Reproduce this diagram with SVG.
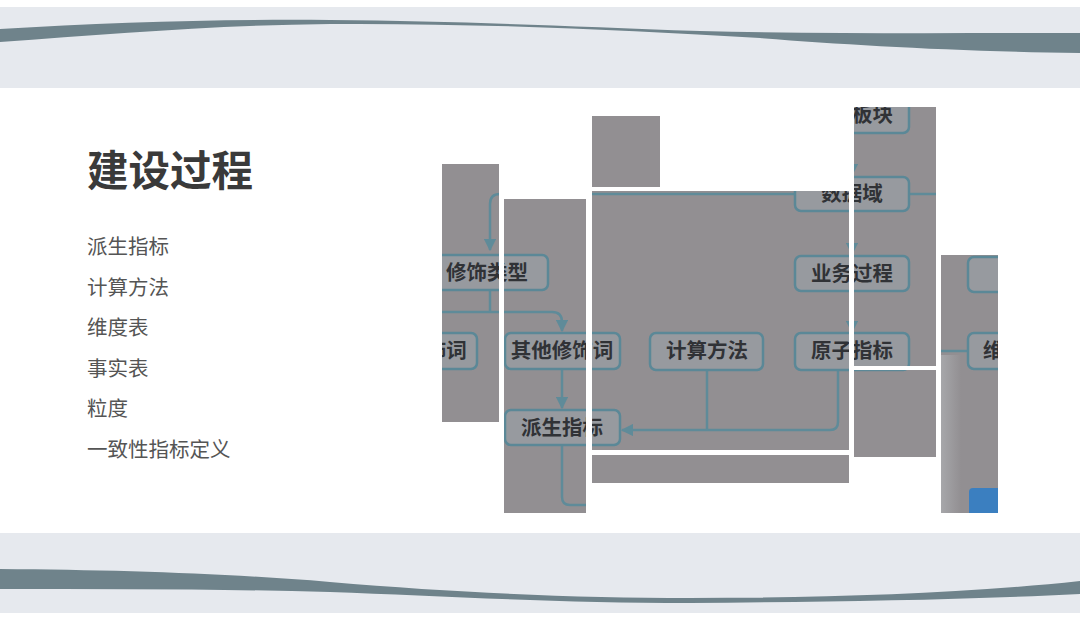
<svg xmlns="http://www.w3.org/2000/svg" width="1080" height="617" viewBox="0 0 1080 617">
<style>
.band{fill:#e6e9ee}
.wave{fill:#6f838b}
.tile{fill:#928f92}
.box{fill:#979a9f;stroke:#5b8897;stroke-width:2.5}
.ln{fill:none;stroke:#5f8b99;stroke-width:2.5}
.bt{font-family:"Noto Sans CJK SC","Noto Sans",sans-serif;font-size:20.5px;font-weight:bold;fill:#303236;text-anchor:middle}
.title{font-family:"Noto Sans CJK SC","Noto Sans",sans-serif;font-size:41.5px;font-weight:bold;fill:#3a3a3a}
.item{font-family:"Noto Sans CJK SC","Noto Sans",sans-serif;font-size:20.5px;fill:#555}
</style>
<defs>
<marker id="ah" viewBox="0 0 10 10" refX="9" refY="5" markerWidth="5" markerHeight="5" orient="auto-start-reverse"><path d="M0,0 L10,5 L0,10 z" fill="#5f8b99"/></marker>
<linearGradient id="glare" x1="0" y1="0" x2="1" y2="0"><stop offset="0" stop-color="#b4b7ba" stop-opacity="0.6"/><stop offset="1" stop-color="#b4b7ba" stop-opacity="0"/></linearGradient>
<clipPath id="tiles">
<rect x="442" y="164" width="57" height="258"/>
<rect x="504" y="199" width="82" height="314"/>
<rect x="592" y="116" width="68" height="71"/>
<rect x="592" y="191" width="257" height="259"/>
<rect x="592" y="455" width="257" height="28"/>
<rect x="854" y="107" width="82" height="259"/>
<rect x="854" y="370" width="82" height="87"/>
<rect x="941" y="255" width="57" height="258"/>
</clipPath>
</defs>
<rect width="1080" height="617" fill="#ffffff"/>
<g id="top-band">
<rect class="band" x="0" y="7" width="1080" height="81"/>
<path class="wave" d="M0,29 C110,22 230,19 330,20 C460,21 560,26 700,31 C820,34 950,33 1080,33 L1080,53 C950,51 850,45 760,38 C620,30 480,23 330,24 C220,25 110,34 0,42 Z"/>
</g>
<g id="bottom-band">
<rect class="band" x="0" y="533" width="1080" height="80"/>
<path class="wave" d="M0,569 C120,570 220,573 330,582 C460,593 580,598 690,598 C820,598 960,594 1080,581 L1080,594 C960,600 820,602 690,603 C560,603 440,596 330,592 C220,589 110,589 0,589 Z"/>
</g>
<g id="title">
<text class="title" x="87" y="186">建设过程</text>
</g>
<g id="list">
<text class="item" x="87" y="254">派生指标</text>
<text class="item" x="87" y="295">计算方法</text>
<text class="item" x="87" y="335">维度表</text>
<text class="item" x="87" y="376">事实表</text>
<text class="item" x="87" y="416">粒度</text>
<text class="item" x="87" y="457">一致性指标定义</text>
</g>
<g id="tiles-bg">
<rect class="tile" x="442" y="164" width="57" height="258"/>
<rect class="tile" x="504" y="199" width="82" height="314"/>
<rect class="tile" x="592" y="116" width="68" height="71"/>
<rect class="tile" x="592" y="191" width="257" height="259"/>
<rect class="tile" x="592" y="455" width="257" height="28"/>
<rect class="tile" x="854" y="107" width="82" height="259"/>
<rect class="tile" x="854" y="370" width="82" height="87"/>
<rect class="tile" x="941" y="255" width="57" height="258"/>
<rect x="941" y="355" width="20" height="158" fill="url(#glare)"/>
</g>
<g clip-path="url(#tiles)">
<g id="connectors">
<path class="ln" d="M490,250 V204 Q490,194 500,194 H795" marker-start="url(#ah)"/>
<path class="ln" d="M909,194 H940"/>
<path class="ln" d="M490,290 V312"/>
<path class="ln" d="M420,312 H552 Q562,312 562,322 V331" marker-end="url(#ah)"/>
<path class="ln" d="M562,369 V408" marker-end="url(#ah)"/>
<path class="ln" d="M562,446 V497 Q562,505 570,505 H600"/>
<path class="ln" d="M707,370 V430"/>
<path class="ln" d="M838,370 V422 Q838,430 830,430 H622" marker-end="url(#ah)"/>
<path class="ln" d="M852,133 V175" marker-end="url(#ah)"/>
<path class="ln" d="M852,211 V254" marker-end="url(#ah)"/>
<path class="ln" d="M852,291 V332" marker-end="url(#ah)"/>
<path class="ln" d="M941,351 H968"/>
</g>
<g id="n-xsx"><rect class="box" x="425" y="255" width="123" height="35" rx="6"/><text class="bt" x="487" y="280">修饰类型</text></g>
<g id="n-xsc"><rect class="box" x="395" y="333" width="82" height="36" rx="6"/><text class="bt" x="436" y="358">修饰词</text></g>
<g id="n-qt"><rect class="box" x="505" y="333" width="115" height="36" rx="6"/><text class="bt" x="562" y="358">其他修饰词</text></g>
<g id="n-ps"><rect class="box" x="505" y="410" width="115" height="35" rx="6"/><text class="bt" x="562" y="435">派生指标</text></g>
<g id="n-js"><rect class="box" x="650" y="333" width="113" height="37" rx="6"/><text class="bt" x="707" y="358">计算方法</text></g>
<g id="n-yz"><rect class="box" x="795" y="333" width="114" height="37" rx="6"/><text class="bt" x="852" y="358">原子指标</text></g>
<g id="n-yw"><rect class="box" x="795" y="256" width="114" height="35" rx="6"/><text class="bt" x="852" y="281">业务过程</text></g>
<g id="n-sj"><rect class="box" x="795" y="177" width="114" height="34" rx="6"/><text class="bt" x="852" y="201">数据域</text></g>
<g id="n-bk"><rect class="box" x="795" y="95" width="114" height="38" rx="6"/><text class="bt" x="852" y="122">数据板块</text></g>
<g id="n-r1"><rect class="box" x="968" y="257" width="70" height="35" rx="6"/></g>
<g id="n-r2"><rect class="box" x="968" y="333" width="70" height="36" rx="6"/><text class="bt" x="983" y="358" style="text-anchor:start">维度</text></g>
<rect x="969" y="488" width="40" height="30" rx="4" fill="#3b7fc0"/>
</g>
</svg>
